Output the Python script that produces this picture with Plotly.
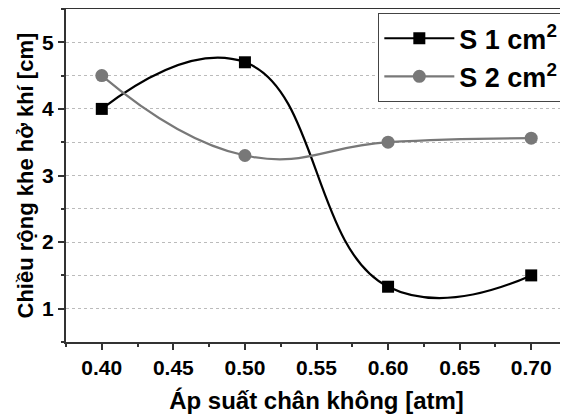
import plotly.graph_objects as go

x_vals = [0.40, 0.50, 0.60, 0.70]
s1_vals = [4.0, 4.7, 1.33, 1.5]
s2_vals = [4.5, 3.3, 3.5, 3.56]
s1_name = "S 1 cm<sup>2</sup>"
s2_name = "S 2 cm<sup>2</sup>"
x_ticks = [0.40, 0.45, 0.50, 0.55, 0.60, 0.65, 0.70]
x_ticklabels = ["0.40", "0.45", "0.50", "0.55", "0.60", "0.65", "0.70"]
y_ticks = [1, 2, 3, 4, 5]
x_title = "Áp suất chân không [atm]"
y_title = "Chiều rộng khe hở khí [cm]"

font = "Liberation Sans, Arial, sans-serif"

fig = go.Figure()
fig.add_trace(go.Scatter(
    x=x_vals, y=s1_vals, name=s1_name, mode="lines+markers", legendgroup="a",
    line=dict(color="black", width=2.2, shape="spline", smoothing=1.3),
    marker=dict(symbol="square", size=12, color="black"),
))
fig.add_trace(go.Scatter(
    x=x_vals, y=s2_vals, name=s2_name, mode="lines+markers", legendgroup="b",
    line=dict(color="#787878", width=2.2, shape="spline", smoothing=1.3),
    marker=dict(symbol="circle", size=13, color="#787878"),
))

fig.update_layout(
    width=560, height=406,
    margin=dict(l=58, r=1, t=1, b=72),
    plot_bgcolor="white", paper_bgcolor="white",
    font=dict(family=font, color="black"),
    showlegend=True,
    legend=dict(
        x=0.623, y=0.988, xanchor="left", yanchor="top",
        bordercolor="#444", borderwidth=1.2, bgcolor="white",
        font=dict(size=27, family=font, weight="bold"),
        tracegroupgap=1, itemwidth=70, traceorder="normal",
    ),
    annotations=[dict(
        text=y_title, textangle=-90, showarrow=False,
        xref="paper", yref="paper", x=0, y=0.5, xanchor="center", yanchor="middle",
        xshift=-41, font=dict(size=22, weight="bold", family=font),
    )],
)
fig.update_xaxes(
    range=[0.375, 0.725], automargin=False,
    tickvals=x_ticks, ticktext=x_ticklabels,
    tickfont=dict(size=21, weight="bold"),
    ticks="outside", ticklen=6, tickwidth=1.5, tickcolor="#333",
    minor=dict(dtick=0.025, tick0=0.375, ticks="outside", ticklen=3, tickwidth=1.5, tickcolor="#333", showgrid=False),
    showline=True, linecolor="#333", linewidth=2, mirror=True,
    showgrid=False, zeroline=False,
    title=dict(text=x_title, font=dict(size=24, weight="bold")),
)
fig.update_yaxes(
    range=[0.5, 5.5], automargin=False,
    tickvals=y_ticks,
    tickfont=dict(size=21, weight="bold"),
    ticks="outside", ticklen=6, tickwidth=1.5, tickcolor="#333",
    minor=dict(dtick=0.5, tick0=0.5, ticks="outside", ticklen=3, tickwidth=1.5, tickcolor="#333",
               showgrid=True, gridcolor="#bbbbbb", griddash="dot", gridwidth=1),
    showline=True, linecolor="#333", linewidth=2, mirror=True,
    showgrid=True, gridcolor="#bbbbbb", griddash="dot", gridwidth=1,
    zeroline=False,
)

fig.write_html("out.html")
